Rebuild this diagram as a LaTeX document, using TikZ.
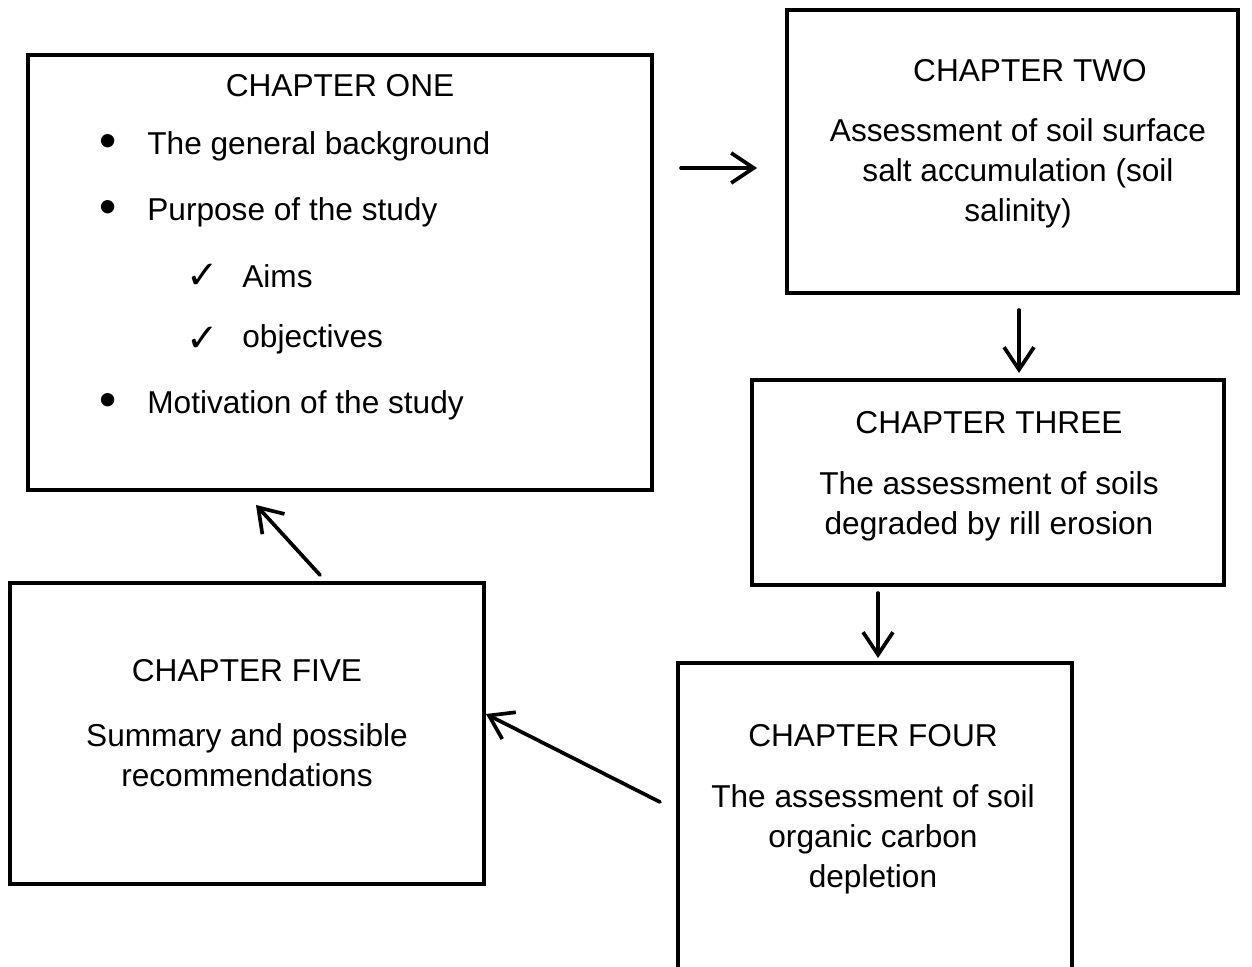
\documentclass[tikz,border=0pt]{standalone}
\usepackage{fontspec}
\setmainfont{Liberation Sans}
\newfontfamily\symbfont{DejaVu Sans}
\usetikzlibrary{arrows.meta,positioning}
\newcommand{\chk}{{\symbfont\fontsize{22}{22}\selectfont\char"2713}}
\newcommand{\bigdot}{{\fontsize{28}{28}\selectfont\textbullet}}
\begin{document}
\begin{tikzpicture}[x=0.02cm,y=-0.02cm,line cap=round,line join=round,
 chbox/.style={draw,line width=2.2pt,line cap=butt,line join=miter},
 txt/.style={font=\fontsize{18}{22.7}\selectfont,inner sep=0pt},
 flow/.style={line width=2.1pt,-{Straight Barb[length=4.5mm,width=6mm,line width=2.1pt]}}]
 \clip (0,0) rectangle (1252,967);
 \fill[white] (0,0) rectangle (1252,967);
 % Kästen
 \draw[chbox] (28,55) rectangle (652,490);
 \draw[chbox] (787,10) rectangle (1238,293);
 \draw[chbox] (752,380) rectangle (1224,585);
 \draw[chbox] (678,663) rectangle (1072,1000);
 \draw[chbox] (10,583) rectangle (484,884);
 % Kapitel eins
 \node[txt] (oneT) at (340,86) {CHAPTER ONE};
 \foreach \yy/\tt/\nm in {146/The general background/oneA,
   212/Purpose of the study/oneB,405/Motivation of the study/oneC} {
  \node[txt] at (108,\yy) {\bigdot};
  \node[txt,anchor=west] (\nm) at (147,\yy) {\tt};
 }
 \foreach \yy/\tt/\nm in {276/Aims/oneD,339/objectives/oneE} {
  \node[txt] at (203,\yy) {\chk};
  \node[txt,anchor=west] (\nm) at (242,\yy) {\tt};
 }
 % Kapitel zwei bis fünf
 \node[txt] (twoT) at (1030,71) {CHAPTER TWO};
 \node[txt,align=center] (twoB) at (1018,173)
  {Assessment of soil surface\\salt accumulation (soil\\salinity)};
 \node[txt] (threeT) at (989,423) {CHAPTER THREE};
 \node[txt,align=center] (threeB) at (989,506)
  {The assessment of soils\\degraded by rill erosion};
 \node[txt] (fourT) at (873,736) {CHAPTER FOUR};
 \node[txt,align=center] (fourB) at (873,839)
  {The assessment of soil\\organic carbon\\depletion};
 \node[txt] (fiveT) at (247,671) {CHAPTER FIVE};
 \node[txt,align=center] (fiveB) at (247,755)
  {Summary and possible\\recommendations};
 % Pfeile
 \coordinate (a1) at (681,168); \coordinate (a2) at (757,168);
 \coordinate (b1) at (1019,310); \coordinate (b2) at (1019,373);
 \coordinate (c1) at (878,593); \coordinate (c2) at (878,658);
 \coordinate (d1) at (660,802); \coordinate (d2) at (486,714);
 \coordinate (e1) at (320,575); \coordinate (e2) at (256,505);
 \foreach \p/\q in {a1/a2,b1/b2,c1/c2,d1/d2,e1/e2}
  \draw[flow] (\p) -- (\q);
\end{tikzpicture}
\end{document}
